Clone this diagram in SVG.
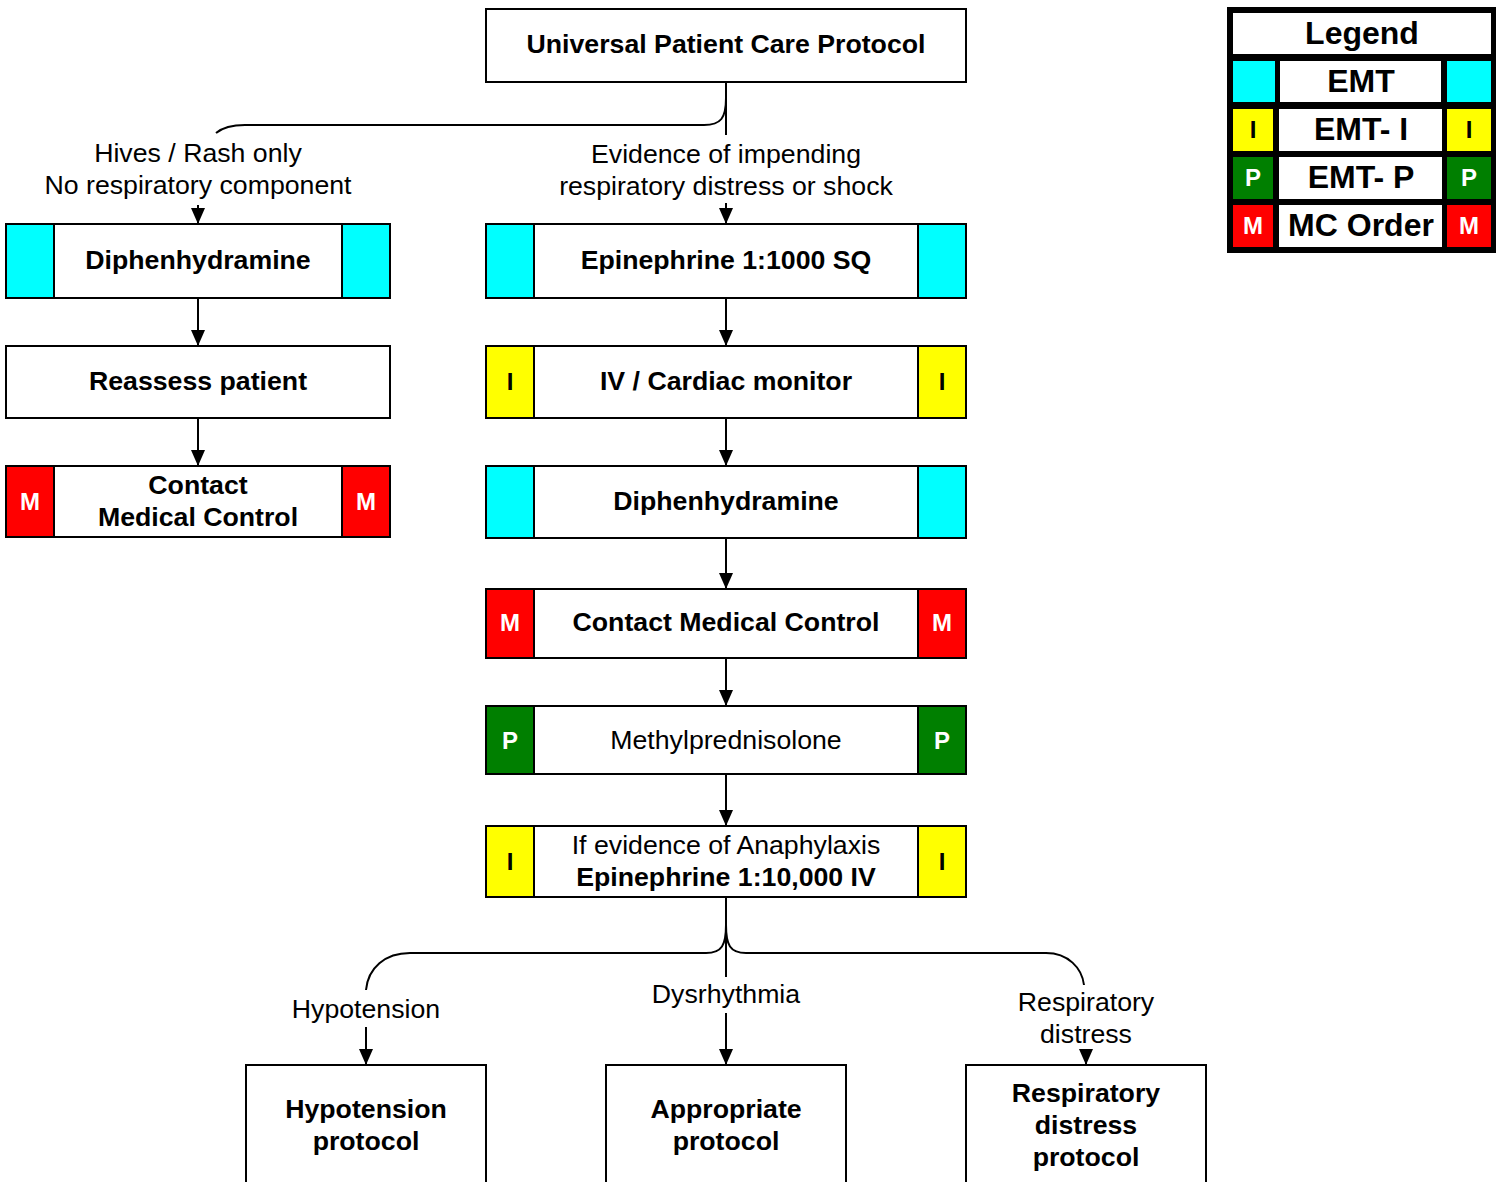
<svg xmlns="http://www.w3.org/2000/svg" width="1496" height="1182" viewBox="0 0 1496 1182">
<style>
.box{fill:#fff;stroke:#000;stroke-width:2}
.side{stroke:#000;stroke-width:2}
.c{fill:#00FFFF}.y{fill:#FFFF00}.g{fill:#007F00}.r{fill:#FF0000}
text{font-family:"Liberation Sans",Arial,sans-serif;font-size:26.7px;text-anchor:middle;fill:#000}
.b{font-weight:bold}
.s{font-weight:bold;font-size:24px}
.w{fill:#fff}
.lg{font-weight:bold;font-size:32px}
.conn{fill:none;stroke:#000;stroke-width:2}
</style>
<defs>
<marker id="ah" viewBox="0 0 16 14" refX="16" refY="7" markerWidth="16" markerHeight="14" markerUnits="userSpaceOnUse" orient="auto">
<path d="M0,0 L16,7 L0,14 z" fill="#000"/>
</marker>
</defs>
<g id="connectors">
<path class="conn" d="M726,82 V135"/>
<path class="conn" d="M726,98 C726,118 721,125 704,125 H245 C232,125 222,128 216,133"/>
<path class="conn" d="M198,205 V224" marker-end="url(#ah)"/>
<path class="conn" d="M726,203 V224" marker-end="url(#ah)"/>
<path class="conn" d="M198,298 V346" marker-end="url(#ah)"/>
<path class="conn" d="M198,418 V466" marker-end="url(#ah)"/>
<path class="conn" d="M726,298 V346" marker-end="url(#ah)"/>
<path class="conn" d="M726,418 V466" marker-end="url(#ah)"/>
<path class="conn" d="M726,538 V589" marker-end="url(#ah)"/>
<path class="conn" d="M726,658 V706" marker-end="url(#ah)"/>
<path class="conn" d="M726,774 V826" marker-end="url(#ah)"/>
<path class="conn" d="M726,897 V977"/>
<path class="conn" d="M726,925 C726,945 722,953 706,953 H410 C385,953 368,968 366,990"/>
<path class="conn" d="M726,925 C726,945 730,953 746,953 H1046 C1068,953 1082,968 1084,985"/>
<path class="conn" d="M366,1027 V1065" marker-end="url(#ah)"/>
<path class="conn" d="M726,1013 V1065" marker-end="url(#ah)"/>
<path class="conn" d="M1086,1051 V1065" marker-end="url(#ah)"/>
</g>
<g id="labels">
<text x="198" y="162">Hives / Rash only</text>
<text x="198" y="194">No respiratory component</text>
<text x="726" y="163">Evidence of impending</text>
<text x="726" y="195">respiratory distress or shock</text>
<text x="366" y="1018">Hypotension</text>
<text x="726" y="1003">Dysrhythmia</text>
<text x="1086" y="1011">Respiratory</text>
<text x="1086" y="1043">distress</text>
</g>
<g id="universal">
<rect class="box" x="486" y="9" width="480" height="73"/>
<text class="b" x="726" y="53">Universal Patient Care Protocol</text>
</g>
<g id="diphen-left">
<rect class="box" x="6" y="224" width="384" height="74"/>
<rect class="side c" x="6" y="224" width="48" height="74"/>
<rect class="side c" x="342" y="224" width="48" height="74"/>
<text class="b" x="198" y="269">Diphenhydramine</text>
</g>
<g id="reassess">
<rect class="box" x="6" y="346" width="384" height="72"/>
<text class="b" x="198" y="390">Reassess patient</text>
</g>
<g id="contact-left">
<rect class="box" x="6" y="466" width="384" height="71"/>
<rect class="side r" x="6" y="466" width="48" height="71"/>
<rect class="side r" x="342" y="466" width="48" height="71"/>
<text class="s w" x="30" y="510">M</text>
<text class="s w" x="366" y="510">M</text>
<text class="b" x="198" y="494">Contact</text>
<text class="b" x="198" y="526">Medical Control</text>
</g>
<g id="epi-sq">
<rect class="box" x="486" y="224" width="480" height="74"/>
<rect class="side c" x="486" y="224" width="48" height="74"/>
<rect class="side c" x="918" y="224" width="48" height="74"/>
<text class="b" x="726" y="269">Epinephrine 1:1000 SQ</text>
</g>
<g id="iv">
<rect class="box" x="486" y="346" width="480" height="72"/>
<rect class="side y" x="486" y="346" width="48" height="72"/>
<rect class="side y" x="918" y="346" width="48" height="72"/>
<text class="s" x="510" y="390">I</text>
<text class="s" x="942" y="390">I</text>
<text class="b" x="726" y="390">IV / Cardiac monitor</text>
</g>
<g id="diphen-right">
<rect class="box" x="486" y="466" width="480" height="72"/>
<rect class="side c" x="486" y="466" width="48" height="72"/>
<rect class="side c" x="918" y="466" width="48" height="72"/>
<text class="b" x="726" y="510">Diphenhydramine</text>
</g>
<g id="contact-right">
<rect class="box" x="486" y="589" width="480" height="69"/>
<rect class="side r" x="486" y="589" width="48" height="69"/>
<rect class="side r" x="918" y="589" width="48" height="69"/>
<text class="s w" x="510" y="631">M</text>
<text class="s w" x="942" y="631">M</text>
<text class="b" x="726" y="631">Contact Medical Control</text>
</g>
<g id="methyl">
<rect class="box" x="486" y="706" width="480" height="68"/>
<rect class="side g" x="486" y="706" width="48" height="68"/>
<rect class="side g" x="918" y="706" width="48" height="68"/>
<text class="s w" x="510" y="749">P</text>
<text class="s w" x="942" y="749">P</text>
<text x="726" y="749">Methylprednisolone</text>
</g>
<g id="epi-iv">
<rect class="box" x="486" y="826" width="480" height="71"/>
<rect class="side y" x="486" y="826" width="48" height="71"/>
<rect class="side y" x="918" y="826" width="48" height="71"/>
<text class="s" x="510" y="870">I</text>
<text class="s" x="942" y="870">I</text>
<text x="726" y="854">If evidence of Anaphylaxis</text>
<text class="b" x="726" y="886">Epinephrine 1:10,000 IV</text>
</g>
<g id="hypo-protocol">
<rect class="box" x="246" y="1065" width="240" height="130"/>
<text class="b" x="366" y="1118">Hypotension</text>
<text class="b" x="366" y="1150">protocol</text>
</g>
<g id="appropriate-protocol">
<rect class="box" x="606" y="1065" width="240" height="130"/>
<text class="b" x="726" y="1118">Appropriate</text>
<text class="b" x="726" y="1150">protocol</text>
</g>
<g id="resp-protocol">
<rect class="box" x="966" y="1065" width="240" height="130"/>
<text class="b" x="1086" y="1102">Respiratory</text>
<text class="b" x="1086" y="1134">distress</text>
<text class="b" x="1086" y="1166">protocol</text>
</g>
<g id="legend">
<rect x="1227" y="7" width="269" height="246" fill="#000"/>
<rect x="1233" y="13" width="258" height="41" fill="#fff"/>
<text class="lg" x="1362" y="44">Legend</text>
<rect x="1233" y="61" width="42" height="41" class="c"/>
<rect x="1280" y="61" width="161" height="41" fill="#fff"/>
<rect x="1447" y="61" width="44" height="41" class="c"/>
<text class="lg" x="1361" y="92">EMT</text>
<rect x="1233" y="109" width="40" height="42" class="y"/>
<rect x="1279" y="109" width="163" height="42" fill="#fff"/>
<rect x="1447" y="109" width="44" height="42" class="y"/>
<text class="s" x="1253" y="138">I</text>
<text class="s" x="1469" y="138">I</text>
<text class="lg" x="1361" y="140">EMT- I</text>
<rect x="1233" y="157" width="40" height="42" class="g"/>
<rect x="1279" y="157" width="163" height="42" fill="#fff"/>
<rect x="1447" y="157" width="44" height="42" class="g"/>
<text class="s w" x="1253" y="186">P</text>
<text class="s w" x="1469" y="186">P</text>
<text class="lg" x="1361" y="188">EMT- P</text>
<rect x="1233" y="205" width="40" height="42" class="r"/>
<rect x="1279" y="205" width="163" height="42" fill="#fff"/>
<rect x="1447" y="205" width="44" height="42" class="r"/>
<text class="s w" x="1253" y="234">M</text>
<text class="s w" x="1469" y="234">M</text>
<text class="lg" x="1361" y="236">MC Order</text>
</g>
</svg>
